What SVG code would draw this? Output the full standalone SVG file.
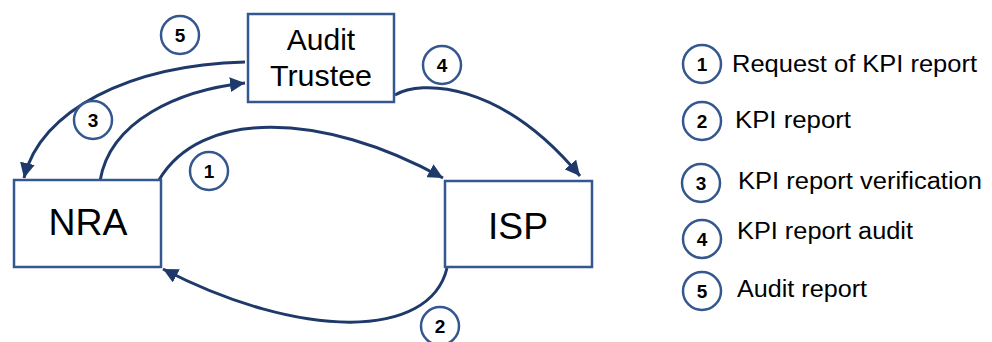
<svg xmlns="http://www.w3.org/2000/svg" width="992" height="342" viewBox="0 0 992 342">
<style>
.box{fill:#fff;stroke:#35578f;stroke-width:2.5}
.lbl{font-family:"Liberation Sans",Arial,sans-serif;fill:#000;text-anchor:middle}
.conn{fill:none;stroke:#1f3a6a;stroke-width:3}
.num circle{fill:#fff;stroke:#35578f;stroke-width:2.5}
.num text{font-family:"Liberation Sans",Arial,sans-serif;font-weight:bold;font-size:19px;text-anchor:middle;fill:#000}
.leg{font-family:"Liberation Sans",Arial,sans-serif;font-size:23.5px;fill:#000}
</style>
<defs>
<marker id="ah" viewBox="0 0 10 10" refX="10" refY="5" markerWidth="5" markerHeight="5" orient="auto" markerUnits="strokeWidth">
<path d="M0,0 L10,5 L0,10 Z" fill="#1f3a6a"/>
</marker>
</defs>
<rect width="992" height="342" fill="#fff"/>
<g id="connectors">
<path class="conn" d="M159,180 C200,110 320,110 443,178" marker-end="url(#ah)"/>
<path class="conn" d="M447,268 C430,340 300,340 163,269" marker-end="url(#ah)"/>
<path class="conn" d="M100,181 C110,120 180,90 245,83" marker-end="url(#ah)"/>
<path class="conn" d="M245,62 C130,65 40,110 24,178" marker-end="url(#ah)"/>
<path class="conn" d="M395,95 C420,80 500,80 580,176" marker-end="url(#ah)"/>
</g>
<g id="nra">
<rect class="box" x="14" y="180" width="147" height="87"/>
<text class="lbl" x="88" y="235" font-size="36" textLength="79" lengthAdjust="spacingAndGlyphs">NRA</text>
</g>
<g id="isp">
<rect class="box" x="445" y="181" width="147" height="86"/>
<text class="lbl" x="518" y="239" font-size="37" textLength="60" lengthAdjust="spacingAndGlyphs">ISP</text>
</g>
<g id="audit">
<rect class="box" x="248" y="14" width="146" height="88"/>
<text class="lbl" x="321" y="50" font-size="30">Audit</text>
<text class="lbl" x="321" y="86" font-size="30" textLength="102" lengthAdjust="spacingAndGlyphs">Trustee</text>
</g>
<g id="badges">
<g class="num"><circle cx="180" cy="35" r="19"/><text x="180" y="42">5</text></g>
<g class="num"><circle cx="93" cy="120" r="19"/><text x="93" y="127">3</text></g>
<g class="num"><circle cx="209" cy="171" r="19"/><text x="209" y="178">1</text></g>
<g class="num"><circle cx="442" cy="65" r="19"/><text x="442" y="72">4</text></g>
<g class="num"><circle cx="440" cy="326" r="19"/><text x="440" y="333">2</text></g>
</g>
<g id="legend">
<g class="num"><circle cx="702" cy="64" r="19"/><text x="702" y="71">1</text></g>
<text class="leg" x="732" y="72" textLength="245" lengthAdjust="spacingAndGlyphs">Request of KPI report</text>
<g class="num"><circle cx="702" cy="121" r="19"/><text x="702" y="128">2</text></g>
<text class="leg" x="735" y="128" textLength="116" lengthAdjust="spacingAndGlyphs">KPI report</text>
<g class="num"><circle cx="701" cy="183" r="19"/><text x="701" y="190">3</text></g>
<text class="leg" x="738" y="189" textLength="244" lengthAdjust="spacingAndGlyphs">KPI report verification</text>
<g class="num"><circle cx="702" cy="239" r="19"/><text x="702" y="246">4</text></g>
<text class="leg" x="737" y="239" textLength="176" lengthAdjust="spacingAndGlyphs">KPI report audit</text>
<g class="num"><circle cx="702" cy="291" r="19"/><text x="702" y="298">5</text></g>
<text class="leg" x="737" y="297" textLength="130" lengthAdjust="spacingAndGlyphs">Audit report</text>
</g>
</svg>
